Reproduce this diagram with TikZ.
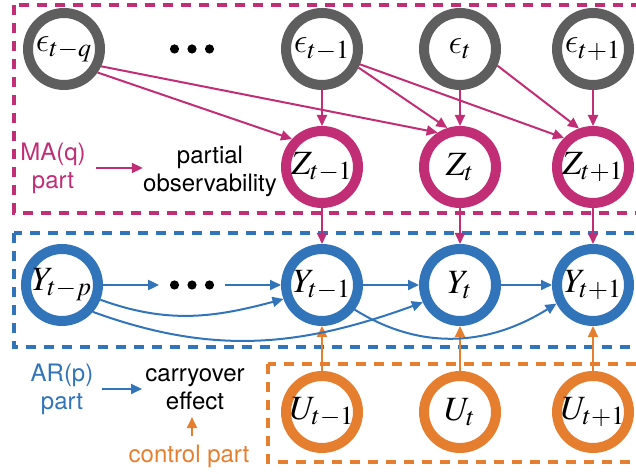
\documentclass[tikz,border=0pt]{standalone}
\usepackage{mathptmx}
\usepackage[no-math]{fontspec}
\setmainfont{TeX Gyre Heros}
\DeclareSymbolFont{cmlet}{OML}{cmm}{m}{it}
\DeclareMathSymbol{\lunateps}{\mathord}{cmlet}{"0F}
\DeclareMathSizes{17}{17}{13}{10}
\usetikzlibrary{arrows.meta}
\definecolor{epsgray}{RGB}{94,94,94}
\definecolor{mamag}{RGB}{194,46,118}
\definecolor{arblue}{RGB}{50,116,186}
\definecolor{ctlorange}{RGB}{230,126,48}
\tikzset{
  var/.style={circle, draw, line width=5pt, minimum size=36pt, inner sep=0pt,
    fill=white, font=\fontsize{17}{20}\selectfont},
  noise/.style={var, draw=epsgray},
  hid/.style={var, draw=mamag},
  obs/.style={var, draw=arblue},
  ctl/.style={var, draw=ctlorange},
  dotsbox/.style={minimum width=32.5pt, minimum height=6pt, inner sep=0pt},
  link/.style={line width=1pt, -{Triangle[length=5.5pt,width=5pt]}},
  box/.style={line width=2pt, dash pattern=on 5pt off 4pt},
  lbl/.style={align=center, inner sep=0pt, font=\fontsize{12}{14}\selectfont},
}
\begin{document}
\begin{tikzpicture}[x=0.5pt, y=-0.5pt]
	\useasboundingbox (0,0) rectangle (636,474);
	% dashed parts
	\draw[box, mamag] (14,5.5) rectangle (660,213);
	\draw[box, arblue] (14,233) rectangle (660,347);
	\draw[box, ctlorange] (268,364) rectangle (660,462);
	% noise
	\node[noise] (eq) at (64,49) {$\lunateps_{t-q}$};
	\node[dotsbox] (edots) at (192,49) {};
	\node[noise] (em) at (322,49) {$\lunateps_{t-1}$};
	\node[noise] (et) at (460,49) {$\lunateps_{t}$};
	\node[noise] (ep) at (593,49) {$\lunateps_{t+1}$};
	% partially observed
	\node[hid] (zm) at (322,167) {$Z_{t-1}$};
	\node[hid] (zt) at (460,167) {$Z_{t}$};
	\node[hid] (zp) at (593,167) {$Z_{t+1}$};
	% outcomes
	\node[obs] (ylag) at (62,285) {$Y_{t-p}$};
	\node[dotsbox] (ydots) at (192,285) {};
	\node[obs] (ym) at (322,285) {$Y_{t-1}$};
	\node[obs] (yt) at (460,285) {$Y_{t}$};
	\node[obs] (yp) at (593,285) {$Y_{t+1}$};
	% controls
	\node[ctl] (um) at (322,412) {$U_{t-1}$};
	\node[ctl] (ut) at (460,412) {$U_{t}$};
	\node[ctl] (up) at (593,412) {$U_{t+1}$};
	\foreach \n in {edots,ydots}
		\foreach \dx in {-8.75pt,0pt,8.75pt}
			\fill ([xshift=\dx]\n.center) circle (2.3pt);
	% MA(q) links
	\draw[link, mamag] (eq.-35) -- (zm.137);
	\draw[link, mamag] (eq.-25) -- (zt.123);
	\draw[link, mamag] (em) -- (zm);
	\draw[link, mamag] (em.-27) -- (zt.108);
	\draw[link, mamag] (em.-22) -- (zp.135);
	\draw[link, mamag] (et) -- (zt);
	\draw[link, mamag] (et.-24) -- (zp.110);
	\draw[link, mamag] (ep) -- (zp);
	\foreach \a in {m,t,p} {
		\draw[link, mamag] (z\a) -- (y\a);
		\draw[link, ctlorange] (u\a) -- (y\a);
	}
	% AR(p) links
	\draw[link, arblue] (ylag) -- (ydots);
	\draw[link, arblue] (ydots) -- (ym);
	\draw[link, arblue] (ym) -- (yt);
	\draw[link, arblue] (yt) -- (yp);
	\draw[link, arblue] (ylag.-21) to[out=-20, in=195] (ym.200);
	\draw[link, arblue] (ylag.-41) to[out=-20, in=200] (yt.205);
	\draw[link, arblue] (ym.-37) to[out=-32, in=212] (yp.207);
	% legend
	\node[lbl, mamag] (maq) at (53,168) {MA(q)\\part};
	\node[lbl] (partial) at (210,171) {partial\\observability};
	\draw[link, mamag, shorten <=5pt] (maq.east) -- (maq.east -| partial.west);
	\node[lbl, arblue] (arp) at (62,389) {AR(p)\\part};
	\node[lbl] (carry) at (195,389) {carryover\\effect};
	\draw[link, arblue, shorten <=4pt, shorten >=1.5pt] (arp.east) -- (arp.east -| carry.west);
	\node[lbl, ctlorange] (ctrl) at (189,456) {control part};
	\draw[link, ctlorange, shorten <=4pt, shorten >=3.5pt] ([xshift=1.5pt]ctrl.north) -- ([xshift=-1.5pt]carry.south);
\end{tikzpicture}
\end{document}
